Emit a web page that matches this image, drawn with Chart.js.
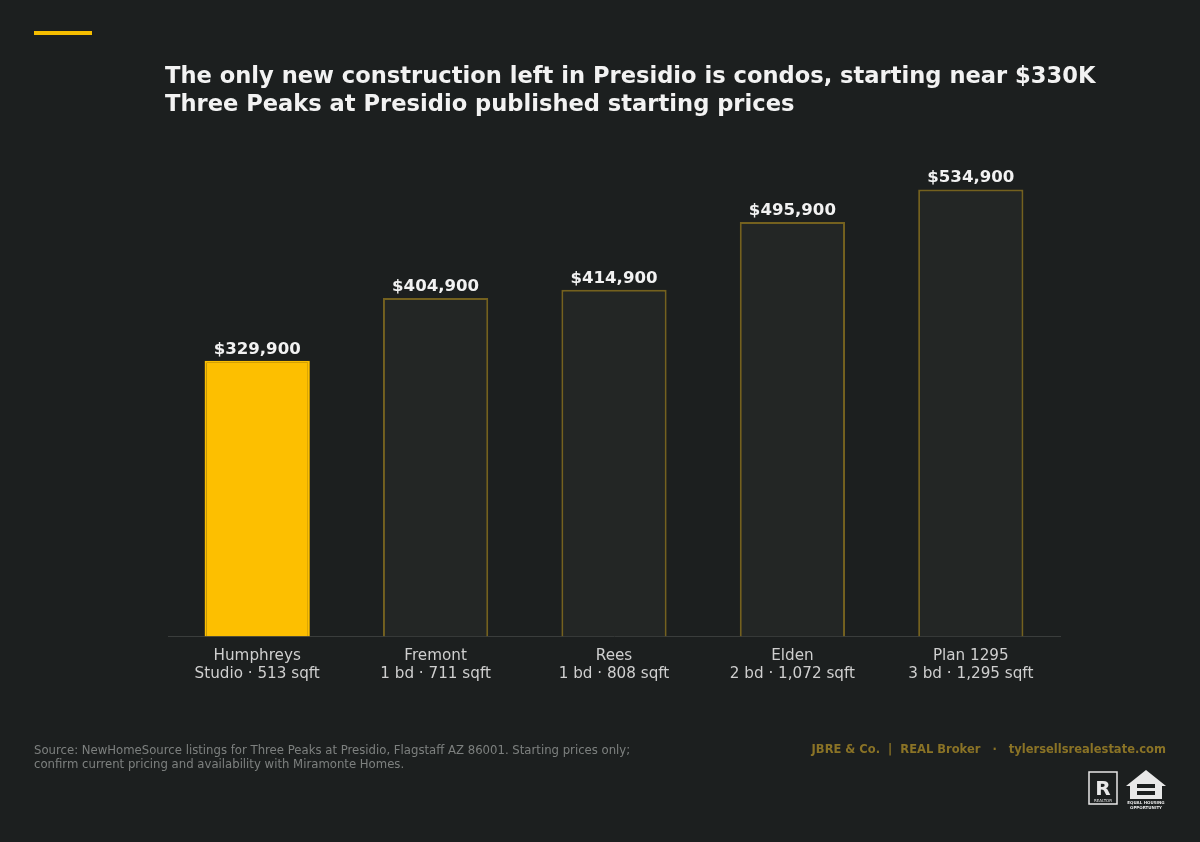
<!DOCTYPE html>
<html><head><meta charset="utf-8">
<script src="https://cdn.jsdelivr.net/npm/chart.js@4.4.1/dist/chart.umd.min.js"></script>
<style>html,body{margin:0;padding:0;background:#1c1f1f;}#c{display:block;}</style>
</head><body>
<div style="width:1200px;height:842px;position:relative"><canvas id="c"></canvas></div>
<script>
const categories = [["Humphreys","Studio · 513 sqft"],["Fremont","1 bd · 711 sqft"],["Rees","1 bd · 808 sqft"],["Elden","2 bd · 1,072 sqft"],["Plan 1295","3 bd · 1,295 sqft"]];
const prices = [329900, 404900, 414900, 495900, 534900];
const priceLabels = ["$329,900","$404,900","$414,900","$495,900","$534,900"];
const FONT = "'DejaVu Sans', sans-serif";

const deco = {
  id:'deco',
  beforeDraw(chart){
    const c = chart.ctx;
    c.save();
    c.fillStyle = '#1c1f1f'; c.fillRect(0,0,1200,842);
    c.fillStyle = '#f5bd00'; c.fillRect(34,31,58,4);
    c.fillStyle = '#f2f2f2'; c.textBaseline='alphabetic'; c.textAlign='left';
    c.font = "bold 22.6px " + FONT;
    c.fillText("The only new construction left in Presidio is condos, starting near $330K",165,83);
    c.fillText("Three Peaks at Presidio published starting prices",165,111);
    c.font = "11.7px " + FONT; c.fillStyle = '#7d807f';
    c.fillText("Source: NewHomeSource listings for Three Peaks at Presidio, Flagstaff AZ 86001. Starting prices only;",34,754);
    c.fillText("confirm current pricing and availability with Miramonte Homes.",34,768);
    c.font = "bold 11.5px " + FONT; c.fillStyle = '#8a7326'; c.textAlign='right';
    c.fillText("JBRE & Co.  |  REAL Broker   ·   tylersellsrealestate.com",1166,753);
    c.strokeStyle='#e8e8e8'; c.lineWidth=1.5; c.strokeRect(1089,772,28,32);
    c.fillStyle='#e8e8e8'; c.font="bold 20px " + FONT; c.textAlign='center'; c.fillText("R",1103,795);
    c.font="4px " + FONT; c.fillText("REALTOR",1103,802);
    c.beginPath(); c.moveTo(1126,786); c.lineTo(1146,770); c.lineTo(1166,786); c.lineTo(1162,786); c.lineTo(1162,799); c.lineTo(1130,799); c.lineTo(1130,786); c.closePath(); c.fill();
    c.fillStyle='#1c1f1f'; c.fillRect(1137,784,18,4); c.fillRect(1137,791,18,4);
    c.fillStyle='#e8e8e8'; c.font="bold 4px " + FONT; c.fillText("EQUAL HOUSING",1146,804); c.fillText("OPPORTUNITY",1146,809);
    c.restore();
  },
  afterDatasetsDraw(chart){
    const c = chart.ctx; const meta = chart.getDatasetMeta(0);
    c.save(); c.fillStyle='#f2f2f2'; c.font="bold 16.6px " + FONT; c.textAlign='center'; c.textBaseline='alphabetic';
    meta.data.forEach((b,i)=>c.fillText(priceLabels[i], b.x, b.y-7));
    c.restore();
  }
};

new Chart(document.getElementById('c'), {
  type:'bar',
  data:{labels:categories, datasets:[{
    data:prices,
    backgroundColor: prices.map((v,i)=> i===0 ? '#fdbf00' : '#232625'),
    borderColor: prices.map((v,i)=> i===0 ? '#fdbf00' : '#74611f'),
    borderWidth: 2,
    borderSkipped: 'bottom',
    barPercentage:0.59, categoryPercentage:1
  }]},
  options:{
    responsive:true, maintainAspectRatio:false, animation:false,
    layout:{padding:{left:168,right:140,top:135,bottom:149}},
    plugins:{legend:{display:false},tooltip:{enabled:false}},
    scales:{
      x:{grid:{display:false, drawTicks:false}, border:{color:'#3a3d3c', width:1},
         ticks:{color:'#cfcfcf', font:{family:FONT,size:15.2}, padding:10}},
      y:{display:false, min:0, max:600000}
    }
  },
  plugins:[deco]
});
</script>
</body></html>
